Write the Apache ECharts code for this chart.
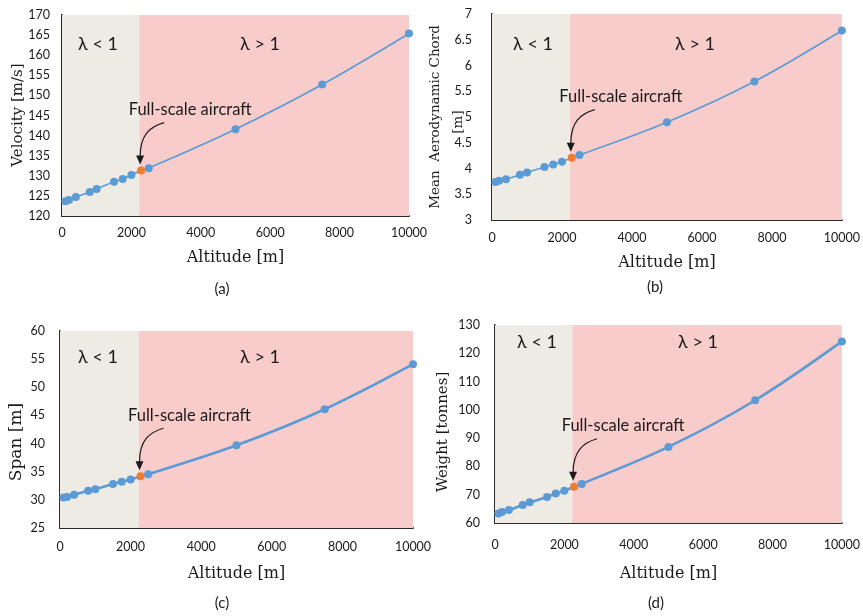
<!DOCTYPE html>
<html>
<head>
<meta charset="utf-8">
<script src="https://cdn.jsdelivr.net/npm/echarts@6/dist/echarts.min.js"></script>
<style>
  html, body { margin: 0; padding: 0; background: #ffffff; }
  #chart { width: 863px; height: 616px; }
</style>
</head>
<body>
<div id="chart"></div>
<script>
// Altitude sweep: design points of the scaled aircraft (index 8 is the full-scale aircraft)
const altitude = [100, 200, 400, 800, 1000, 1500, 1750, 2000, 2280, 2500, 5000, 7500, 10000];
const velocity = [123.7, 124.0, 124.7, 126.0, 126.7, 128.5, 129.2, 130.2, 131.3, 131.9, 141.6, 152.7, 165.4];
const chord    = [3.74, 3.76, 3.79, 3.88, 3.92, 4.03, 4.08, 4.13, 4.21, 4.26, 4.90, 5.69, 6.68];
const span     = [30.4, 30.5, 30.9, 31.6, 31.9, 32.8, 33.2, 33.6, 34.2, 34.55, 39.7, 46.1, 54.1];
const weight   = [63.4, 63.9, 64.6, 66.4, 67.3, 69.2, 70.4, 71.4, 72.8, 73.8, 86.9, 103.4, 124.2];
const fullScaleIndex = 8;
const regimeBoundary = 2230;   // altitude where λ crosses 1
const xTicks = [0, 2000, 4000, 6000, 8000, 10000];

const BLUE = '#5B9BD5', ORANGE = '#ED7D31';
const BEIGE = '#EEEAE4', PINK = '#F9CCCC';
const SANS = 'Lato, "Open Sans", sans-serif';
const SERIF = '"DejaVu Serif", serif';
const INK = '#1a1a1a';

const panels = [
  { values: velocity, letter: '(a)', yTitle: [['Velocity [m/s]', 18, 115]], yMin: 120, yMax: 170, yStep: 5,
    grid: { left: 62, top: 15, width: 347, height: 201 }, lw: 1.6, yFont: 15,
    xLabelMargin: 10, xNameGap: 34, yLabelMargin: 12,
    lamLo: [98, 44], lamHi: [260, 44], letterPos: [222, 289] },
  { values: chord, letter: '(b)', yTitle: [['Mean  Aerodynamic Chord', 435, 117], ['[m]', 458, 122]],
    yMin: 3, yMax: 7, yStep: 0.5,
    grid: { left: 492, top: 14, width: 352, height: 206 }, lw: 1.6, yFont: 13.5,
    xLabelMargin: 11, xNameGap: 35, yLabelMargin: 20,
    lamLo: [533, 44], lamHi: [695, 44], letterPos: [655, 287] },
  { values: span, letter: '(c)', yTitle: [['Span [m]', 17, 442]], yMin: 25, yMax: 60, yStep: 5,
    grid: { left: 60, top: 331, width: 353, height: 197 }, lw: 2.6, yFont: 17,
    xLabelMargin: 12, xNameGap: 38, yLabelMargin: 15,
    lamLo: [98, 357], lamHi: [260, 357], letterPos: [222, 603] },
  { values: weight, letter: '(d)', yTitle: [['Weight [tonnes]', 443, 432]], yMin: 60, yMax: 130, yStep: 10,
    grid: { left: 495, top: 325, width: 349, height: 198 }, lw: 2.6, yFont: 15,
    xLabelMargin: 15, xNameGap: 43, yLabelMargin: 15,
    lamLo: [537, 342], lamHi: [698, 342], letterPos: [656, 603] }
];

const chart = echarts.init(document.getElementById('chart'), null, { renderer: 'canvas' });

const axisLine = { show: true, lineStyle: { color: '#2b2b2b', width: 2 } };

const option = {
  animation: false,
  backgroundColor: '#ffffff',
  grid: panels.map(p => Object.assign({ containLabel: false }, p.grid)),
  xAxis: panels.map((p, i) => ({
    type: 'value', gridIndex: i, min: 0, max: xTicks[xTicks.length - 1], interval: xTicks[1] - xTicks[0],
    axisLine: axisLine, axisTick: { show: false }, splitLine: { show: false },
    axisLabel: { color: INK, fontFamily: SANS, fontSize: 12.5, margin: p.xLabelMargin,
                 formatter: v => String(v) },
    name: 'Altitude [m]', nameLocation: 'middle', nameGap: p.xNameGap,
    nameTextStyle: { fontFamily: SERIF, fontSize: 16, color: INK }
  })),
  yAxis: panels.map((p, i) => ({
    type: 'value', gridIndex: i, min: p.yMin, max: p.yMax, interval: p.yStep,
    axisLine: axisLine, axisTick: { show: false }, splitLine: { show: false },
    axisLabel: { color: INK, fontFamily: SANS, fontSize: 12.5, margin: p.yLabelMargin,
                 formatter: v => String(v) }
  })),
  series: panels.map((p, i) => ({
    type: 'line', xAxisIndex: i, yAxisIndex: i, clip: false,
    smooth: 0.35,
    symbol: 'circle', symbolSize: 8,
    lineStyle: { color: BLUE, width: p.lw },
    itemStyle: { color: BLUE },
    data: altitude.map((a, k) => k === fullScaleIndex
      ? { value: [a, p.values[k]], itemStyle: { color: ORANGE }, z: 5 }
      : [a, p.values[k]]),
    markArea: {
      silent: true,
      data: [
        [{ xAxis: 0, itemStyle: { color: BEIGE } }, { xAxis: regimeBoundary }],
        [{ xAxis: regimeBoundary, itemStyle: { color: PINK } }, { xAxis: xTicks[xTicks.length - 1] }]
      ]
    }
  })),
  graphic: []
};

chart.setOption(option);

// Annotations: axis titles, regime labels, panel letters and the full-scale arrow
const graphics = [];
panels.forEach((p, i) => {
  const txt = (pos, s, size, font, rot) => ({
    type: 'text', x: pos[0], y: pos[1], z: 100, rotation: rot || 0,
    style: { text: s, fill: INK, font: size + 'px ' + font, textAlign: 'center', textVerticalAlign: 'middle' }
  });
  p.yTitle.forEach(t => graphics.push(txt([t[1], t[2]], t[0], p.yFont, SERIF, Math.PI / 2)));
  graphics.push(txt(p.lamLo, 'λ < 1', 18, SANS));
  graphics.push(txt(p.lamHi, 'λ > 1', 18, SANS));
  graphics.push(txt(p.letterPos, p.letter, 15, SANS));

  const o = chart.convertToPixel({ gridIndex: i }, [altitude[fullScaleIndex], p.values[fullScaleIndex]]);
  graphics.push(txt([o[0] + 49, o[1] - 61], 'Full-scale aircraft', 16.5, SANS));

  const sx = o[0] + 23, sy = o[1] - 48;
  const ex = o[0] - 1, ey = o[1] - 14;
  graphics.push({
    type: 'bezierCurve', z: 100,
    shape: { x1: sx, y1: sy, cpx1: sx - 14, cpy1: sy + 4, cpx2: ex, cpy2: sy + 12, x2: ex, y2: ey },
    style: { stroke: INK, lineWidth: 1.2, fill: null }
  });
  graphics.push({
    type: 'polygon', z: 100,
    shape: { points: [[ex - 4, ey - 1], [ex + 4, ey - 1], [ex, o[1] - 6]] },
    style: { fill: INK }
  });
});
chart.setOption({ graphic: graphics });
</script>
</body>
</html>
